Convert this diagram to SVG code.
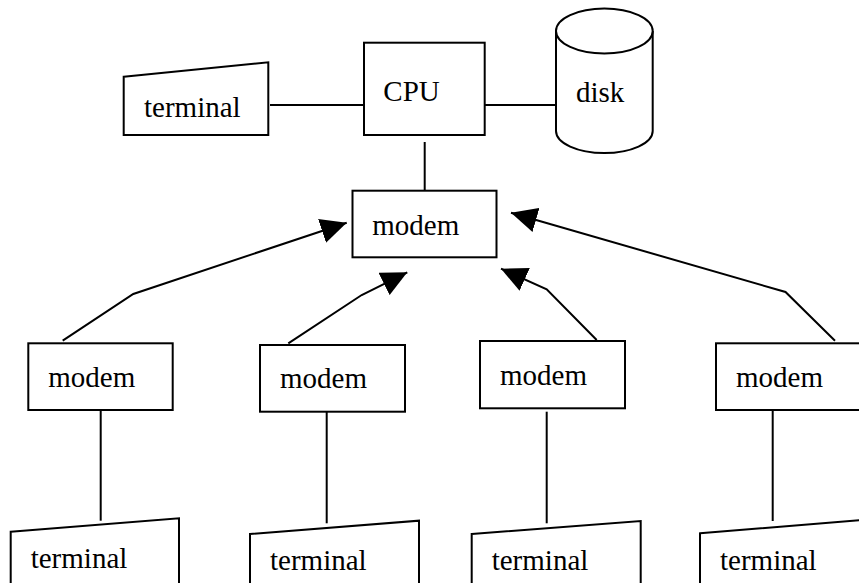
<svg xmlns="http://www.w3.org/2000/svg" width="859" height="583" viewBox="0 0 859 583">
<style>
.s{fill:#fff;stroke:#000;stroke-width:2}
.l{fill:none;stroke:#000;stroke-width:2}
.t{font-family:'Liberation Serif','Times New Roman','DejaVu Serif',serif;font-size:29px;fill:#000}
</style>
<defs>
<marker id="ah" markerUnits="userSpaceOnUse" markerWidth="26" markerHeight="25" viewBox="0 0 26 25" refX="26" refY="12.5" orient="auto">
<path d="M0,0 L26,12.5 L0,25 Z" fill="#000"/>
</marker>
</defs>
<rect width="859" height="583" fill="#fff"/>
<g id="connectors">
<line class="l" x1="270" y1="105" x2="364" y2="105"/>
<line class="l" x1="484.7" y1="105" x2="556" y2="105"/>
<line class="l" x1="424.7" y1="142" x2="424.7" y2="190.7"/>
<polyline class="l" points="62.7,340.7 133.3,294 346.7,222.7" marker-end="url(#ah)"/>
<polyline class="l" points="288.3,343.3 361.7,295 407.3,272.3" marker-end="url(#ah)"/>
<polyline class="l" points="596.7,340 546.7,289.3 501,268.7" marker-end="url(#ah)"/>
<polyline class="l" points="835,340.7 785.5,292 511,212.7" marker-end="url(#ah)"/>
<line class="l" x1="100.7" y1="410" x2="100.7" y2="520.7"/>
<line class="l" x1="326.7" y1="411.7" x2="326.7" y2="523.3"/>
<line class="l" x1="546.7" y1="411.7" x2="546.7" y2="523.3"/>
<line class="l" x1="772.7" y1="410" x2="772.7" y2="521"/>
</g>
<g id="terminal-top">
<polygon class="s" points="123.7,76.7 268.3,62.3 268.3,135 123.7,135"/>
<text class="t" font-family="Liberation Serif, serif" x="144" y="116.7">terminal</text>
</g>
<g id="cpu">
<rect class="s" x="364" y="42.7" width="120.7" height="92.3"/>
<text class="t" font-family="Liberation Serif, serif" x="383.3" y="100.7">CPU</text>
</g>
<g id="disk">
<path class="s" d="M556,31 L556,131 A48.35,22 0 0,0 652.7,131 L652.7,31"/>
<ellipse class="s" cx="604.35" cy="31" rx="48.35" ry="22.5"/>
<text class="t" font-family="Liberation Serif, serif" x="576" y="102.3">disk</text>
</g>
<g id="modem-center">
<rect class="s" x="352.5" y="190.7" width="144" height="66.6"/>
<text class="t" font-family="Liberation Serif, serif" x="372.3" y="235">modem</text>
</g>
<g id="modem-1">
<rect class="s" x="28.3" y="343.3" width="144.4" height="66.7"/>
<text class="t" font-family="Liberation Serif, serif" x="48.3" y="386.7">modem</text>
</g>
<g id="modem-2">
<rect class="s" x="260" y="345" width="145" height="66.7"/>
<text class="t" font-family="Liberation Serif, serif" x="280" y="388.3">modem</text>
</g>
<g id="modem-3">
<rect class="s" x="480" y="341" width="145" height="67.3"/>
<text class="t" font-family="Liberation Serif, serif" x="500" y="385">modem</text>
</g>
<g id="modem-4">
<rect class="s" x="716" y="343.3" width="160" height="66.7"/>
<text class="t" font-family="Liberation Serif, serif" x="736" y="386.7">modem</text>
</g>
<g id="terminal-1">
<polygon class="s" points="10.7,531.7 179,518.3 179,590 10.7,590"/>
<text class="t" font-family="Liberation Serif, serif" x="30.7" y="568.3">terminal</text>
</g>
<g id="terminal-2">
<polygon class="s" points="250,534 419,520.7 419,590 250,590"/>
<text class="t" font-family="Liberation Serif, serif" x="270" y="570">terminal</text>
</g>
<g id="terminal-3">
<polygon class="s" points="471.7,534 640.7,521 640.7,590 471.7,590"/>
<text class="t" font-family="Liberation Serif, serif" x="491.7" y="570">terminal</text>
</g>
<g id="terminal-4">
<polygon class="s" points="700,533.3 880,518.5 880,590 700,590"/>
<text class="t" font-family="Liberation Serif, serif" x="720" y="570">terminal</text>
</g>
</svg>
